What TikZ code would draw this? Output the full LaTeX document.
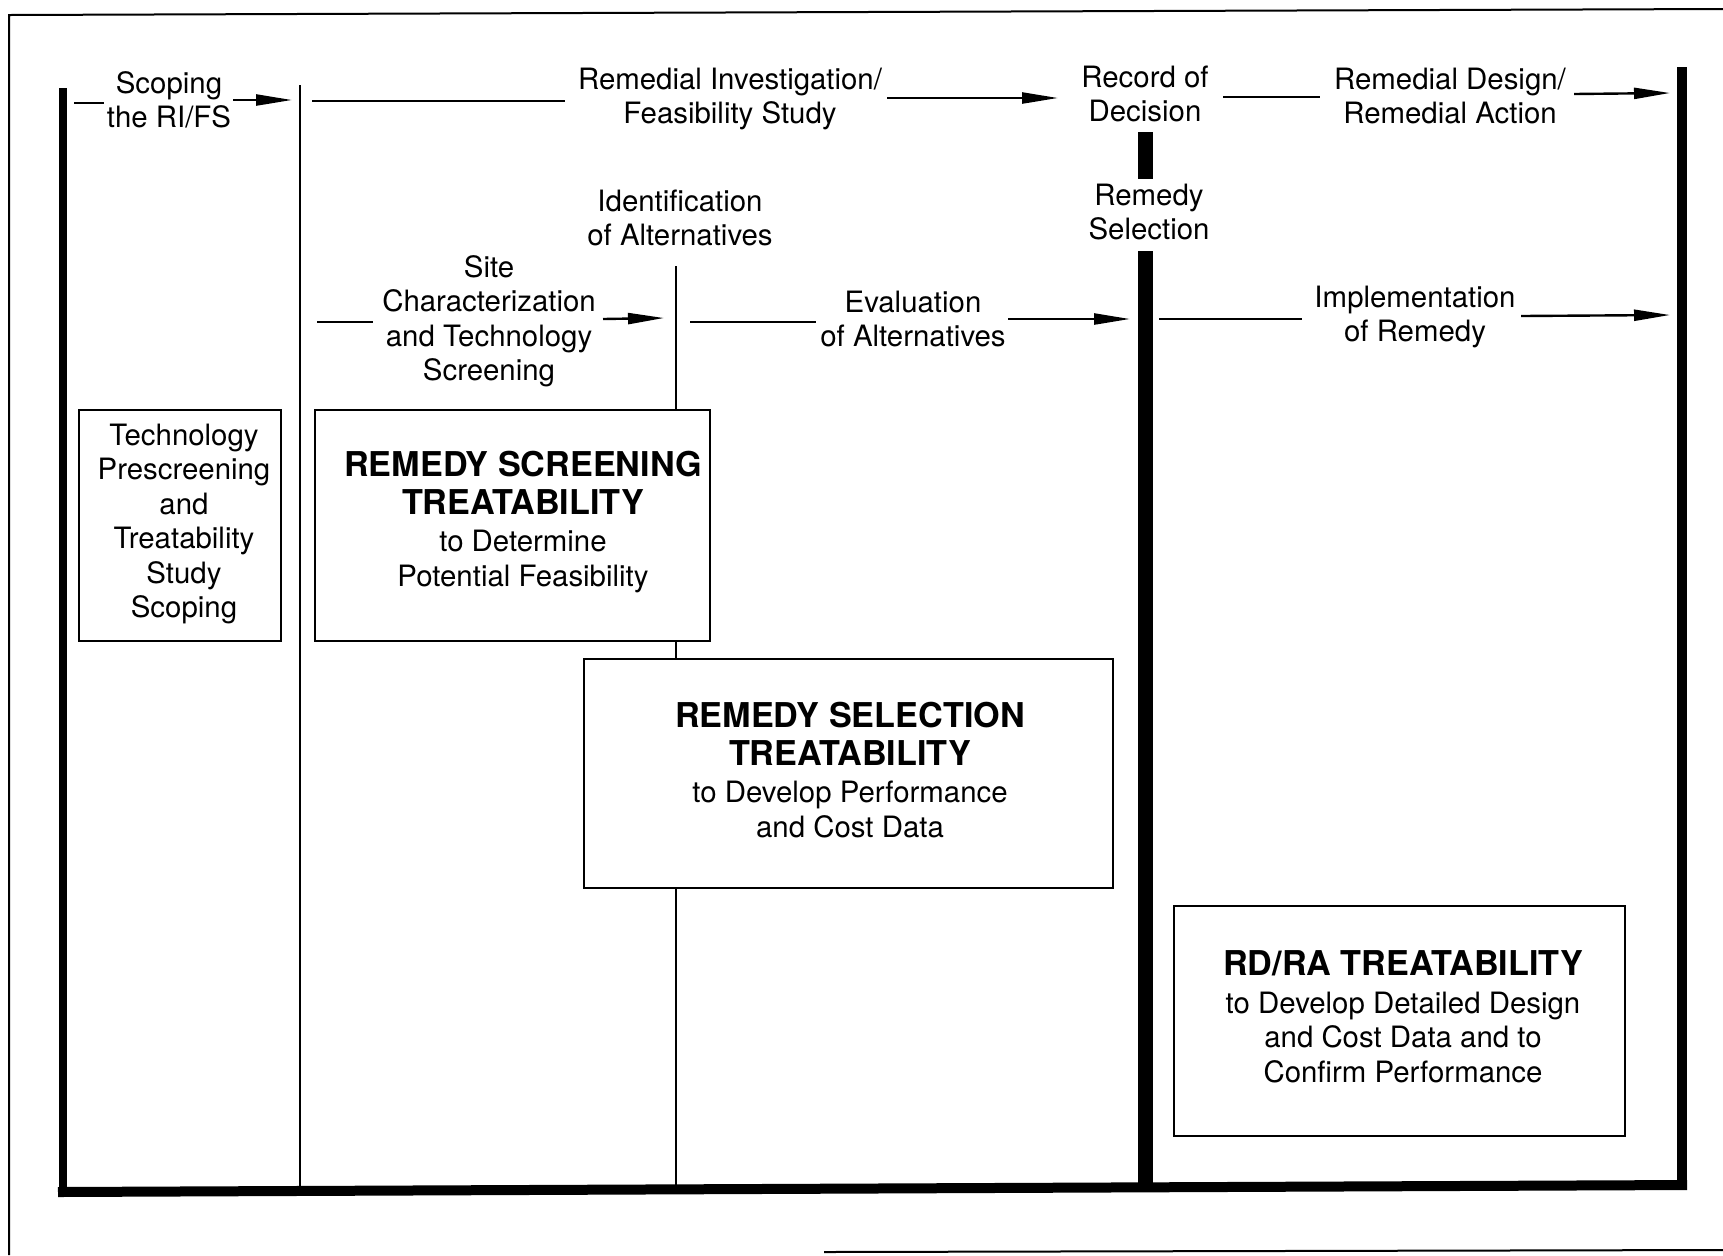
\documentclass[tikz,border=0pt]{standalone}
\usepackage{fontspec}
\setmainfont{TeX Gyre Heros}
\usetikzlibrary{arrows.meta}
\newcommand\bt[1]{{\bfseries\fontsize{17.1}{18.5}\selectfont #1}}
\begin{document}
\begin{tikzpicture}[x=0.5pt,y=-0.5pt,
  lbl/.style={align=center,inner sep=0pt,font=\fontsize{14.7}{17.25}\selectfont},
  box/.style={draw,line width=1pt,fill=white,inner sep=0pt},
  frameline/.style={line width=1pt},
  thickv/.style={line width=#1},
  thinv/.style={line width=1.3pt},
  conn/.style={line width=1.2pt},
  arr/.style={conn,-{Triangle[length=18pt,width=5.5pt]}}
]
\fill[white] (0,0) rectangle (1723,1255);
\useasboundingbox (0,0) rectangle (1723,1255);

% outer frame (partly faded in the scan)
\draw[frameline] (1723,9) -- (9,15) -- (9,1255);
\draw[frameline] (824,1252) -- (1723,1250);

% heavy frame
\draw[thickv=4pt] (63,88) -- (63,1194);
\draw[thickv=5pt] (58,1192) -- (1687,1185);
\draw[thickv=5pt] (1682,67) -- (1682,1187);
\draw[thickv=7.5pt] (1145,132) -- (1145,179);
\draw[thickv=7.5pt] (1145,251) -- (1145,1188);

% thin phase lines
\draw[thinv] (300,85) -- (300,1191);
\draw[thinv] (676,266) -- (676,1190);

% boxes
\node[box,minimum width=101pt,minimum height=115.5pt] (bA) at (180,525.5) {};
\node[box,minimum width=197.5pt,minimum height=115.5pt] (bB) at (512.5,525.5) {};
\node[box,minimum width=264.5pt,minimum height=114.5pt] (bC) at (848.5,773.5) {};
\node[box,minimum width=225.5pt,minimum height=115pt] (bD) at (1399.5,1021) {};

\node[lbl] (tA) at (184,524) {Technology\\Prescreening\\and\\Treatability\\Study\\Scoping};
\node[lbl] (tB) at (523,522) {\bt{REMEDY SCREENING}\\[1.5pt]\bt{TREATABILITY}\\[1.5pt]to Determine\\Potential Feasibility};
\node[lbl] (tC) at (850,770) {\bt{REMEDY SELECTION}\\[1.5pt]\bt{TREATABILITY}\\[1.5pt]to Develop Performance\\and Cost Data};
\node[lbl] (tD) at (1403,1017) {\bt{RD/RA TREATABILITY}\\[1.5pt]to Develop Detailed Design\\and Cost Data and to\\Confirm Performance};

% phase labels
\node[lbl] (scope) at (169,100) {Scoping\\the RI/FS};
\node[lbl] (rifs) at (730,99) {Remedial Investigation/\\Feasibility Study};
\node[lbl] (rod) at (1145,94) {Record of\\Decision};
\node[lbl] (rdra) at (1450,96) {Remedial Design/\\Remedial Action};
\node[lbl] (rsel) at (1149,212) {Remedy\\Selection};
\node[lbl] (idalt) at (680,218) {Identification\\of Alternatives};
\node[lbl] (site) at (489,321) {Site\\Characterization\\and Technology\\Screening};
\node[lbl] (evalt) at (913,319) {Evaluation\\of Alternatives};
\node[lbl] (impl) at (1415,317) {Implementation\\of Remedy};

% connector end points
\coordinate (scA) at (74,103);   \coordinate (scB) at (104,103);
\coordinate (scC) at (233,100);  \coordinate (scD) at (292,100);
\coordinate (riA) at (312,101);  \coordinate (riB) at (565,101);
\coordinate (riC) at (887,98);   \coordinate (riD) at (1058,98);
\coordinate (rdA) at (1223,97);  \coordinate (rdB) at (1320,97);
\coordinate (rdC) at (1574,94);  \coordinate (rdD) at (1670,93);
\coordinate (siA) at (317,322);  \coordinate (siB) at (373,322);
\coordinate (siC) at (603,319);  \coordinate (siD) at (664,318);
\coordinate (evA) at (690,322);  \coordinate (evB) at (816,322);
\coordinate (evC) at (1008,319); \coordinate (evD) at (1130,319);
\coordinate (imA) at (1159,319); \coordinate (imB) at (1302,319);
\coordinate (imC) at (1521,316); \coordinate (imD) at (1670,315);

\draw[conn] (scA) -- (scB);  \draw[arr] (scC) -- (scD);
\draw[conn] (riA) -- (riB);  \draw[arr] (riC) -- (riD);
\draw[conn] (rdA) -- (rdB);  \draw[arr] (rdC) -- (rdD);
\draw[conn] (siA) -- (siB);  \draw[arr] (siC) -- (siD);
\draw[conn] (evA) -- (evB);  \draw[arr] (evC) -- (evD);
\draw[conn] (imA) -- (imB);  \draw[arr] (imC) -- (imD);
\end{tikzpicture}
\end{document}
